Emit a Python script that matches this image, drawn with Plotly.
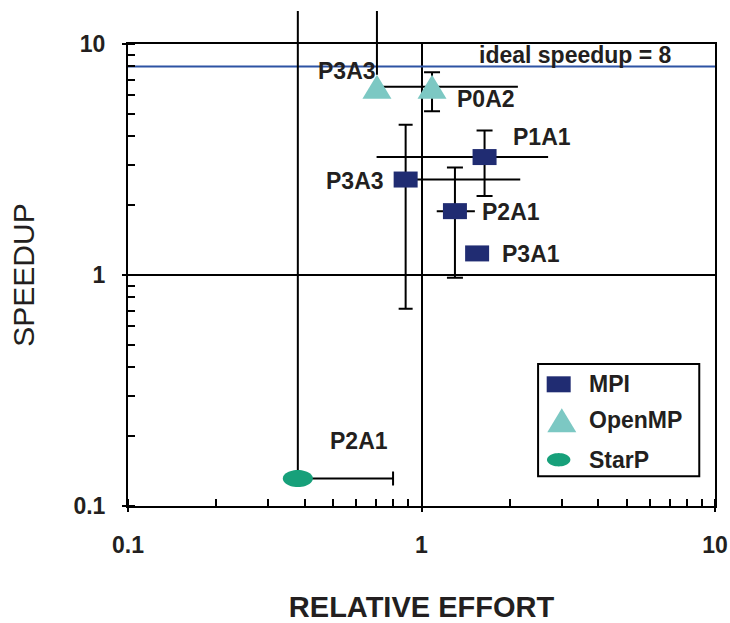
import numpy as np
import plotly.graph_objects as go

# ---------------- data ----------------
mpi_labels = ["P1A1", "P3A3", "P2A1", "P3A1"]
mpi_effort = [1.64, 0.883, 1.30, 1.547]
mpi_speedup = [3.24, 2.59, 1.89, 1.24]
mpi_effort_lo = [0.703, None, 1.127, None]
mpi_effort_hi = [2.70, 2.17, 1.52, None]
mpi_speedup_lo = [2.20, 0.714, 0.973, None]
mpi_speedup_hi = [4.22, 4.47, 2.92, None]

omp_labels = ["P3A3", "P0A2"]
omp_effort = [0.705, 1.086]
omp_speedup = [6.53, 6.53]
omp_effort_lo = [None, None]
omp_effort_hi = [2.13, None]
omp_speedup_lo = [None, 5.11]
omp_speedup_hi = [14.1, 7.54]

starp_labels = ["P2A1"]
starp_effort = [0.379]
starp_speedup = [0.1315]
starp_effort_lo = [None]
starp_effort_hi = [0.80]
starp_speedup_lo = [None]
starp_speedup_hi = [14.1]

ideal_speedup = 8
axis_ticks = [0.1, 1, 10]
axis_ticktext = ["0.1", "1", "10"]

# ---------------- styles ----------------
FONT = "Liberation Sans, Arial, sans-serif"
TXT = "#231f20"
C_MPI = "#202c72"
C_OMP = "#7cc8c3"
C_STARP = "#17a07a"
C_IDEAL = "#2d53a3"

series = [
    dict(name="MPI", color=C_MPI, kind="rect", labels=mpi_labels, x=mpi_effort, y=mpi_speedup,
         xlo=mpi_effort_lo, xhi=mpi_effort_hi, ylo=mpi_speedup_lo, yhi=mpi_speedup_hi,
         xcap=[0, 0, 0, 0], ycap=[8, 7, 8, 0], open_top=[False] * 4,
         lab_off=[(57, 20), (-51, -1), (56, -1), (54, -1)]),
    dict(name="OpenMP", color=C_OMP, kind="tri", labels=omp_labels, x=omp_effort, y=omp_speedup,
         xlo=omp_effort_lo, xhi=omp_effort_hi, ylo=omp_speedup_lo, yhi=omp_speedup_hi,
         xcap=[0, 0], ycap=[0, 8], open_top=[True, False],
         lab_off=[(-30, 16), (54, -12)]),
    dict(name="StarP", color=C_STARP, kind="ell", labels=starp_labels, x=starp_effort, y=starp_speedup,
         xlo=starp_effort_lo, xhi=starp_effort_hi, ylo=starp_speedup_lo, yhi=starp_speedup_hi,
         xcap=[7], ycap=[0], open_top=[True],
         lab_off=[(61, 38)]),
]
GLYPH_TOP = {"rect": 8, "tri": 12, "ell": 8.5}


def glyph_path(kind, scale=1.0):
    if kind == "rect":
        w, h = 12 * scale, 8 * scale
        pts = [(-w, -h), (w, -h), (w, h), (-w, h)]
    elif kind == "tri":
        w, h = 14.5 * scale, 12 * scale
        pts = [(-w, -h), (w, -h), (0, h)]
    else:
        a, b = 15 * scale, 8.5 * scale
        t = np.linspace(0, 2 * np.pi, 48, endpoint=False)
        pts = list(zip(a * np.cos(t), b * np.sin(t)))
    return "M" + " L".join(f"{px:.2f},{py:.2f}" for px, py in pts) + " Z"


def marker_shape(kind, color, xref, yref, xa, ya, scale=1.0):
    return dict(type="path", path=glyph_path(kind, scale), xref=xref, yref=yref,
                xsizemode="pixel", ysizemode="pixel", xanchor=xa, yanchor=ya,
                fillcolor=color, line=dict(width=0), layer="above")


fig = go.Figure()
shapes = []
annotations = []

for s in series:
    for i, lab in enumerate(s["labels"]):
        xv, yv = s["x"][i], s["y"][i]
        xp = (s["xhi"][i] - xv) if s["xhi"][i] is not None else 0
        xm = (xv - s["xlo"][i]) if s["xlo"][i] is not None else 0
        yp = (s["yhi"][i] - yv) if s["yhi"][i] is not None else 0
        ym = (yv - s["ylo"][i]) if s["ylo"][i] is not None else 0
        if s["open_top"][i]:
            # upward bar runs past the top of the frame: drawn as an unclipped connector
            annotations.append(dict(
                x=np.log10(xv), y=np.log10(yv), xref="x", yref="y",
                ax=np.log10(xv), ay=np.log10(s["yhi"][i]), axref="x", ayref="y",
                text="", showarrow=True, arrowhead=0, arrowwidth=2, arrowcolor="black",
                standoff=GLYPH_TOP[s["kind"]]))
            yp = 0
        fig.add_trace(go.Scatter(
            x=[xv], y=[yv], mode="markers",
            marker=dict(size=2, color=s["color"]),
            error_x=dict(type="data", symmetric=False, array=[xp], arrayminus=[xm],
                         color="black", thickness=2, width=s["xcap"][i], visible=(xp + xm) > 0),
            error_y=dict(type="data", symmetric=False, array=[yp], arrayminus=[ym],
                         color="black", thickness=2, width=s["ycap"][i], visible=(yp + ym) > 0),
            showlegend=False, hoverinfo="skip", name=s["name"],
        ))
        shapes.append(marker_shape(s["kind"], s["color"], "x", "y", xv, yv))
        dx, dy = s["lab_off"][i]
        annotations.append(dict(
            x=np.log10(xv), y=np.log10(yv), xref="x", yref="y", text=lab, showarrow=False,
            xshift=dx, yshift=dy, xanchor="center", yanchor="middle",
            font=dict(family=FONT, size=23, color=TXT, weight="bold")))

# ideal speedup line
fig.add_trace(go.Scatter(x=[axis_ticks[0], axis_ticks[-1]], y=[ideal_speedup, ideal_speedup],
                         mode="lines", line=dict(color=C_IDEAL, width=2),
                         showlegend=False, hoverinfo="skip"))
annotations.append(dict(x=0.763, y=np.log10(ideal_speedup), xref="paper", yref="y",
                        text=f"ideal speedup = {ideal_speedup}", showarrow=False,
                        xanchor="center", yanchor="middle", yshift=11,
                        font=dict(family=FONT, size=23, color=TXT, weight="bold")))

# manual legend (box, icons, labels) in paper coordinates
lx0, lx1, ly0, ly1 = 0.6986, 0.9732, 0.0644, 0.3071
shapes.append(dict(type="rect", xref="paper", yref="paper", x0=lx0, x1=lx1, y0=ly0, y1=ly1,
                   line=dict(color="black", width=2), fillcolor="white", layer="above"))
leg_rows = [0.2634, 0.1854, 0.1001]
leg_icon_x = {"rect": 0.7337, "tri": 0.739, "ell": 0.7337}
leg_icon_scale = {"rect": 1.0, "tri": 1.0, "ell": 0.78}
for s, ry in zip(series, leg_rows):
    shapes.append(marker_shape(s["kind"], s["color"], "paper", "paper",
                               leg_icon_x[s["kind"]], ry, leg_icon_scale[s["kind"]]))
    annotations.append(dict(x=0.7815, y=ry, xref="paper", yref="paper", text=s["name"],
                            showarrow=False, xanchor="left", yanchor="middle",
                            font=dict(family=FONT, size=23, color=TXT, weight="bold")))

axis_common = dict(
    type="log", range=[-1, 1], tickmode="array", tickvals=axis_ticks, ticktext=axis_ticktext,
    ticks="outside", ticklen=4, tickwidth=2, tickcolor="black",
    showline=True, linecolor="black", linewidth=2, mirror=True,
    showgrid=True, gridcolor="black", gridwidth=2, zeroline=False, automargin=False,
    minor=dict(ticks="inside", ticklen=7, tickwidth=1.5, tickcolor="black", dtick="D1", showgrid=False),
    tickfont=dict(family=FONT, size=23, color=TXT, weight="bold"),
)

fig.update_layout(
    width=730, height=623,
    margin=dict(l=128, r=15, t=44, b=117, pad=0),
    paper_bgcolor="white", plot_bgcolor="white",
    showlegend=False,
    xaxis=dict(axis_common, ticklabelstandoff=13,
               title=dict(text="RELATIVE EFFORT", standoff=42,
                          font=dict(family=FONT, size=29, color=TXT, weight="bold"))),
    yaxis=dict(axis_common, ticklabelstandoff=12,
               title=dict(text="SPEEDUP", standoff=30,
                          font=dict(family=FONT, size=30, color=TXT))),
    shapes=shapes, annotations=annotations,
)

fig.write_html("out.html")
